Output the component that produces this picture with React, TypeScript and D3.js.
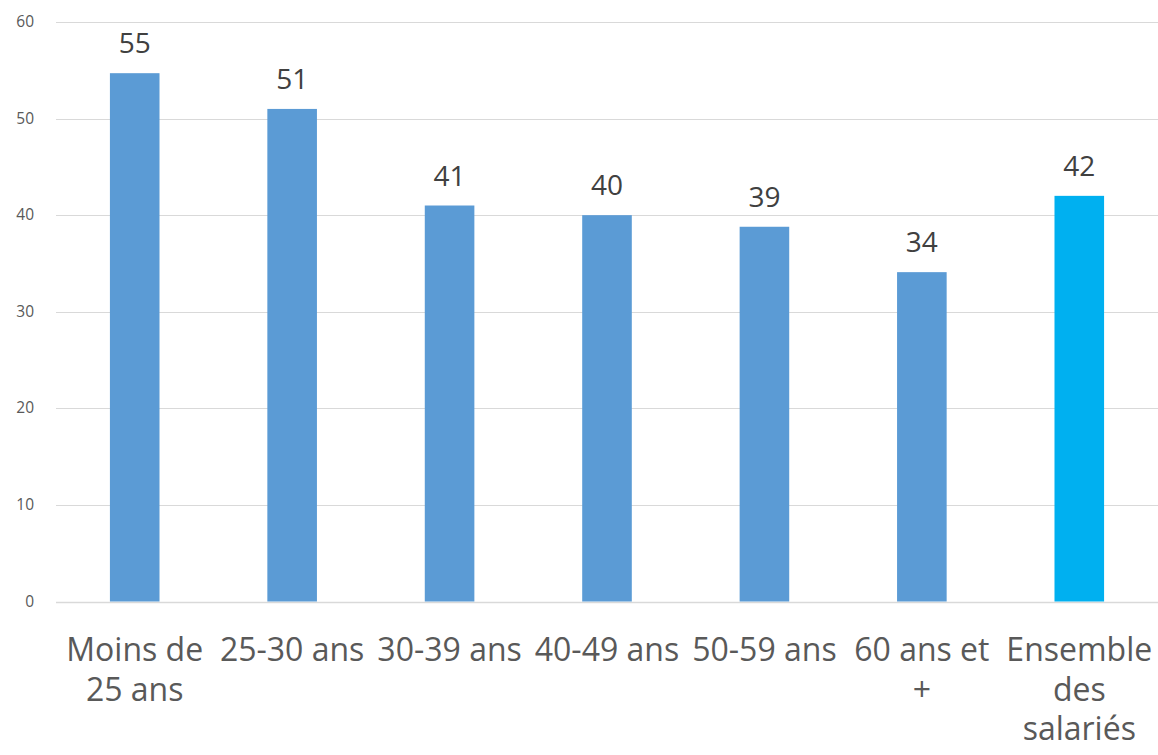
import React, { useEffect, useRef } from 'react';
import * as d3 from 'd3';

const CATEGORIES = ['Moins de 25 ans', '25-30 ans', '30-39 ans', '40-49 ans', '50-59 ans', '60 ans et +', 'Ensemble des salariés'];
// line breaks as the chart wraps them
const CATEGORY_LINES = [['Moins de', '25 ans'], ['25-30 ans'], ['30-39 ans'], ['40-49 ans'], ['50-59 ans'], ['60 ans et', '+'], ['Ensemble', 'des', 'salariés']];
const VALUES = [54.7, 51.0, 41.0, 40.0, 38.8, 34.1, 42.0];
const LABELS = ['55', '51', '41', '40', '39', '34', '42'];
const Y_TICKS = [0, 10, 20, 30, 40, 50, 60];

const WIDTH = 1158;
const HEIGHT = 755;
const FONT = '"Open Sans", "Noto Sans", sans-serif';

const App: React.FC = () => {
  const svgRef = useRef<SVGSVGElement | null>(null);

  useEffect(() => {
    if (!svgRef.current) return;
    const svg = d3.select(svgRef.current);
    svg.selectAll('*').remove();

    const left = 56;
    const right = 1158;
    const top = 22;
    const bottom = 601.5;

    const x = d3.scaleBand<string>().domain(CATEGORIES).range([left, right]).paddingInner(0.685).paddingOuter(0.3425);
    const y = d3.scaleLinear().domain([0, 60]).range([bottom, top]);

    // gridlines
    svg.append('g')
      .selectAll('line')
      .data(Y_TICKS)
      .enter()
      .append('line')
      .attr('x1', left)
      .attr('x2', right)
      .attr('y1', (d) => Math.round(y(d)) + 0.5)
      .attr('y2', (d) => Math.round(y(d)) + 0.5)
      .attr('stroke', '#d9d9d9')
      .attr('stroke-width', (d) => (d === 0 ? 1.5 : 1));

    // y tick labels
    svg.append('g')
      .selectAll('text')
      .data(Y_TICKS)
      .enter()
      .append('text')
      .attr('x', 34)
      .attr('y', (d) => y(d) + 5)
      .attr('text-anchor', 'end')
      .attr('fill', '#595959')
      .style('font-family', FONT)
      .style('font-size', '15.5px')
      .text((d) => d);

    // bars
    svg.append('g')
      .selectAll('rect')
      .data(VALUES)
      .enter()
      .append('rect')
      .attr('x', (d, i) => x(CATEGORIES[i])!)
      .attr('y', (d) => y(d))
      .attr('width', x.bandwidth())
      .attr('height', (d) => bottom - y(d))
      .attr('fill', (d, i) => (i === CATEGORIES.length - 1 ? '#00b0f0' : '#5b9bd5'));

    // value labels
    svg.append('g')
      .selectAll('text')
      .data(VALUES)
      .enter()
      .append('text')
      .attr('x', (d, i) => x(CATEGORIES[i])! + x.bandwidth() / 2)
      .attr('y', (d) => y(d) - 20)
      .attr('text-anchor', 'middle')
      .attr('fill', '#404040')
      .style('font-family', FONT)
      .style('font-size', '28px')
      .text((d, i) => LABELS[i]);

    // category labels
    const cats = svg.append('g')
      .selectAll('text')
      .data(CATEGORY_LINES)
      .enter()
      .append('text')
      .attr('text-anchor', 'middle')
      .attr('fill', '#595959')
      .style('font-family', FONT)
      .style('font-size', '32px');

    cats.each(function (lines, i) {
      const cx = x(CATEGORIES[i])! + x.bandwidth() / 2;
      lines.forEach((line, j) => {
        d3.select(this)
          .append('tspan')
          .attr('x', cx)
          .attr('y', 661 + j * 39.5)
          .text(line);
      });
    });
  }, []);

  return (
    <div style={{ position: 'absolute', left: 0, top: 0, width: WIDTH, height: HEIGHT, background: '#fff' }}>
      <svg ref={svgRef} width={WIDTH} height={HEIGHT}></svg>
    </div>
  );
};

export default App;
